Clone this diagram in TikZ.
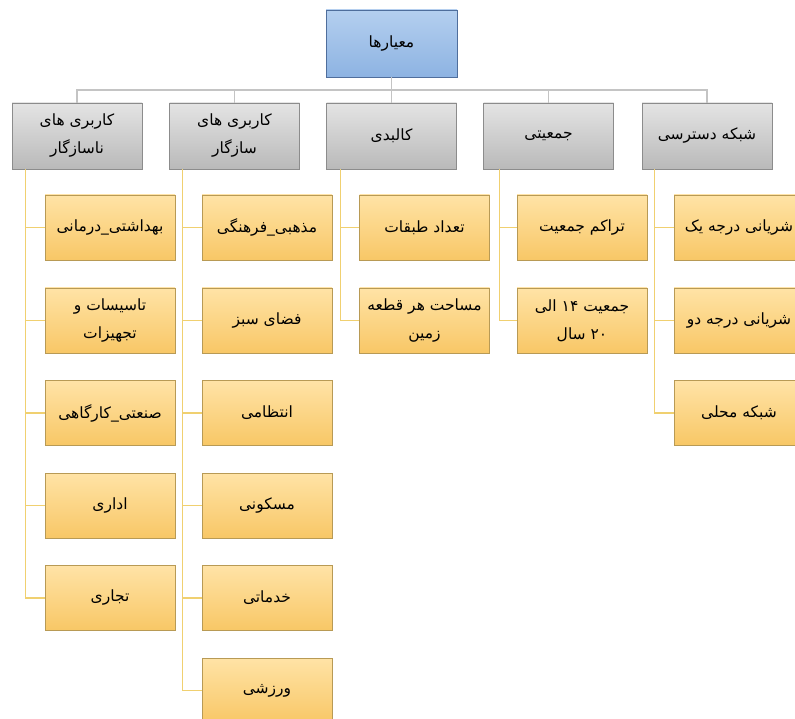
\documentclass[tikz,border=0pt]{standalone}
\usepackage{fontspec}
\newfontfamily\arabicfont[Script=Arabic]{DejaVu Sans}
\TeXXeTstate=1
\newcommand{\fa}[1]{{\arabicfont\beginR #1\endR}}
\definecolor{roottop}{HTML}{B4CFEF}
\definecolor{rootbot}{HTML}{8DB3E2}
\definecolor{rootline}{HTML}{4F6E9C}
\definecolor{greytop}{HTML}{E4E4E4}
\definecolor{greybot}{HTML}{B9B9B9}
\definecolor{greyline}{HTML}{8C8C8C}
\definecolor{leaftop}{HTML}{FFE3A6}
\definecolor{leafbot}{HTML}{F8C766}
\definecolor{leafline}{HTML}{B89A55}
\definecolor{buscol}{HTML}{C4C4C4}
\definecolor{stemcol}{HTML}{F0D070}
\begin{document}
\begin{tikzpicture}[x=1pt, y=-1pt,
  rootbox/.style={draw=rootline, top color=roottop, bottom color=rootbot, minimum width=131pt, minimum height=67pt, align=center, font=\fontsize{15.5}{28}\selectfont},
  groupbox/.style={draw=greyline, top color=greytop, bottom color=greybot, minimum width=130pt, minimum height=66pt, align=center, font=\fontsize{15.5}{28}\selectfont},
  leafbox/.style={draw=leafline, top color=leaftop, bottom color=leafbot, minimum width=130pt, minimum height=65pt, align=center, font=\fontsize{15.5}{28}\selectfont},
  bus/.style={draw=buscol, line width=1.2pt},
  stem/.style={draw=stemcol, line width=1.2pt}]
\clip (0,0) rectangle (795,719);
\node[rootbox] (root) at (391.5,43.5) {\fa{معیارها}};
\coordinate (fork) at (391.5,90);
\node[groupbox] (g1) at (77,136) {\fa{کاربری های}\\\fa{ناسازگار}};
\node[groupbox] (g2) at (234.5,136) {\fa{کاربری های}\\\fa{سازگار}};
\node[groupbox] (g3) at (391.5,136) {\fa{کالبدی}};
\node[groupbox] (g4) at (548.5,136) {\fa{جمعیتی}};
\node[groupbox] (g5) at (707,136) {\fa{شبکه دسترسی}};
% column 1
\node[leafbox] (l11) at (110,227.5) {\fa{بهداشتی\_درمانی}};
\node[leafbox] (l12) at (110,320.5) {\fa{تاسیسات و}\\\fa{تجهیزات}};
\node[leafbox] (l13) at (110,413) {\fa{صنعتی\_کارگاهی}};
\node[leafbox] (l14) at (110,505.5) {\fa{اداری}};
\node[leafbox] (l15) at (110,598) {\fa{تجاری}};
% column 2
\node[leafbox] (l21) at (267,227.5) {\fa{مذهبی\_فرهنگی}};
\node[leafbox] (l22) at (267,320.5) {\fa{فضای سبز}};
\node[leafbox] (l23) at (267,413) {\fa{انتظامی}};
\node[leafbox] (l24) at (267,505.5) {\fa{مسکونی}};
\node[leafbox] (l25) at (267,598) {\fa{خدماتی}};
\node[leafbox] (l26) at (267,690.5) {\fa{ورزشی}};
% column 3
\node[leafbox] (l31) at (424.5,227.5) {\fa{تعداد طبقات}};
\node[leafbox] (l32) at (424.5,320.5) {\fa{مساحت هر قطعه}\\\fa{زمین}};
% column 4
\node[leafbox] (l41) at (582,227.5) {\fa{تراکم جمعیت}};
\node[leafbox] (l42) at (582,320.5) {\fa{جمعیت ۱۴ الی}\\\fa{۲۰ سال}};
% column 5
\node[leafbox] (l51) at (739,227.5) {\fa{شریانی درجه یک}};
\node[leafbox] (l52) at (739,320.5) {\fa{شریانی درجه دو}};
\node[leafbox] (l53) at (739,413) {\fa{شبکه محلی}};
\path [bus] (root.south) -- (fork);
\path [bus] (fork) -| (g1.north);
\path [bus] (fork) -| (g2.north);
\path [bus] (fork) -- (g3.north);
\path [bus] (fork) -| (g4.north);
\path [bus] (fork) -| (g5.north);
\path [stem] ([xshift=14pt]g1.south west) |- (l11.west);
\path [stem] ([xshift=14pt]g1.south west) |- (l12.west);
\path [stem] ([xshift=14pt]g1.south west) |- (l13.west);
\path [stem] ([xshift=14pt]g1.south west) |- (l14.west);
\path [stem] ([xshift=14pt]g1.south west) |- (l15.west);
\path [stem] ([xshift=13pt]g2.south west) |- (l21.west);
\path [stem] ([xshift=13pt]g2.south west) |- (l22.west);
\path [stem] ([xshift=13pt]g2.south west) |- (l23.west);
\path [stem] ([xshift=13pt]g2.south west) |- (l24.west);
\path [stem] ([xshift=13pt]g2.south west) |- (l25.west);
\path [stem] ([xshift=13pt]g2.south west) |- (l26.west);
\path [stem] ([xshift=14pt]g3.south west) |- (l31.west);
\path [stem] ([xshift=14pt]g3.south west) |- (l32.west);
\path [stem] ([xshift=16pt]g4.south west) |- (l41.west);
\path [stem] ([xshift=16pt]g4.south west) |- (l42.west);
\path [stem] ([xshift=13pt]g5.south west) |- (l51.west);
\path [stem] ([xshift=13pt]g5.south west) |- (l52.west);
\path [stem] ([xshift=13pt]g5.south west) |- (l53.west);
\end{tikzpicture}
\end{document}
